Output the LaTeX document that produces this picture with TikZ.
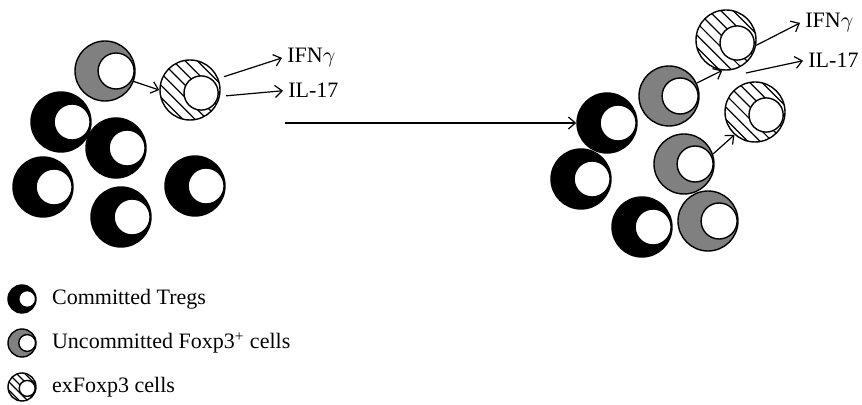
\documentclass[tikz,border=0pt]{standalone}
\usepackage{fontspec}
\setmainfont{Liberation Serif}
\usepackage{xcolor}
\definecolor{cTreg}{HTML}{000000}
\definecolor{cUnc}{HTML}{808080}
\usepackage{tikz}
\usetikzlibrary{positioning,arrows.meta}
\tikzset{
  cell/.style={circle,draw=black,line width=0.7pt,inner sep=0pt,minimum size=2*#1},
  cell/.default=15pt,
  % white nucleus pushed against the right rim
  cell-core/.style={path picture={
    \draw[fill=white,line width=0.7pt]
      ([xshift=0.37*#1]path picture bounding box.center) circle (0.6*#1);}},
  cell-treg/.style={cell=#1,fill=cTreg,cell-core=#1},
  cell-treg/.default=15pt,
  cell-unc/.style={cell=#1,fill=cUnc,cell-core=#1},
  cell-unc/.default=15pt,
  % hatched body, nucleus a bit lower right
  cell-ex/.style={cell=#1,fill=white,path picture={
    \foreach \k in {-5,...,5}
      \draw[line width=0.6pt,shift={(path picture bounding box.center)}]
        ({\k*(0.18*#1+1.6pt)/sqrt(2)-#1},{\k*(0.18*#1+1.6pt)/sqrt(2)+#1})
        -- ++({2*#1},{-2*#1});
    \draw[fill=white,line width=0.7pt]
      ([xshift=0.37*#1,yshift=-0.1*#1]path picture bounding box.center)
      circle (0.57*#1);}},
  cell-ex/.default=15pt,
  label-txt/.style={font=\fontsize{11}{13}\selectfont,inner sep=2.5pt},
  arrow/.style={-{Straight Barb[length=3.5pt,width=6pt]},line width=0.6pt},
}

\begin{document}
\begin{tikzpicture}[x=0.5pt,y=-0.5pt]
  \useasboundingbox (0,0) rectangle (862,405);

  % left group
  \node[cell-unc] (gA) at (105,71) {};
  \node[cell-ex] (hA) at (190,90) {};
  \node[cell-treg] (tA1) at (61,122) {};
  \node[cell-treg] (tA2) at (116,148) {};
  \node[cell-treg] (tA3) at (43,187) {};
  \node[cell-treg] (tA4) at (121,217) {};
  \node[cell-treg] (tA5) at (195,186) {};
  \node[label-txt,anchor=base west] (ifnA) at (282,63) {IFN$\gamma$};
  \node[label-txt,anchor=base west] (ilA) at (283,98) {IL-17};
  \draw[arrow] (gA.-20) -- (hA.west);
  \draw[arrow,shorten <=3pt] (hA.22) -- (ifnA.west);
  \draw[arrow,shorten <=3pt] (hA.-12) -- (ilA.west);

  % right group
  \node[cell-ex] (hB) at (726,40) {};
  \node[cell-unc] (gB) at (669,96) {};
  \node[cell-treg] (tB1) at (607,123) {};
  \node[cell-ex] (hC) at (755,112) {};
  \node[cell-unc] (gC) at (684,164) {};
  \node[cell-treg] (tB2) at (581,179) {};
  \node[cell-treg] (tB3) at (642,227) {};
  \node[cell-unc] (gD) at (708,221) {};
  \node[label-txt,anchor=base west] (ifnB) at (800,28) {IFN$\gamma$};
  \node[label-txt,anchor=base west] (ilB) at (803,68) {IL-17};
  \coordinate (ilStart) at (746,73);
  \draw[arrow] (gB.25) -- (hB.-97);
  \draw[arrow] (gC.19) -- (hC.-132);
  \draw[arrow] (hB.-10) -- (ifnB.west);
  \draw[arrow] (ilStart) -- (ilB.west);

  % shift between the two states
  \coordinate (shiftStart) at (285,123);
  \draw[arrow] (shiftStart) -- (tB1.west);

  % legend
  \node[cell-treg=7pt] (lT) at (22,299) {};
  \node[cell-unc=7pt] (lG) at (22,343) {};
  \node[cell-ex=7pt] (lH) at (22,387) {};
  \node[label-txt,right=5pt of lT] (lTtxt) {Committed Tregs};
  \node[label-txt,right=5pt of lG] (lGtxt) {Uncommitted Foxp3\textsuperscript{+} cells};
  \node[label-txt,right=5pt of lH] (lHtxt) {exFoxp3 cells};
\end{tikzpicture}
\end{document}
